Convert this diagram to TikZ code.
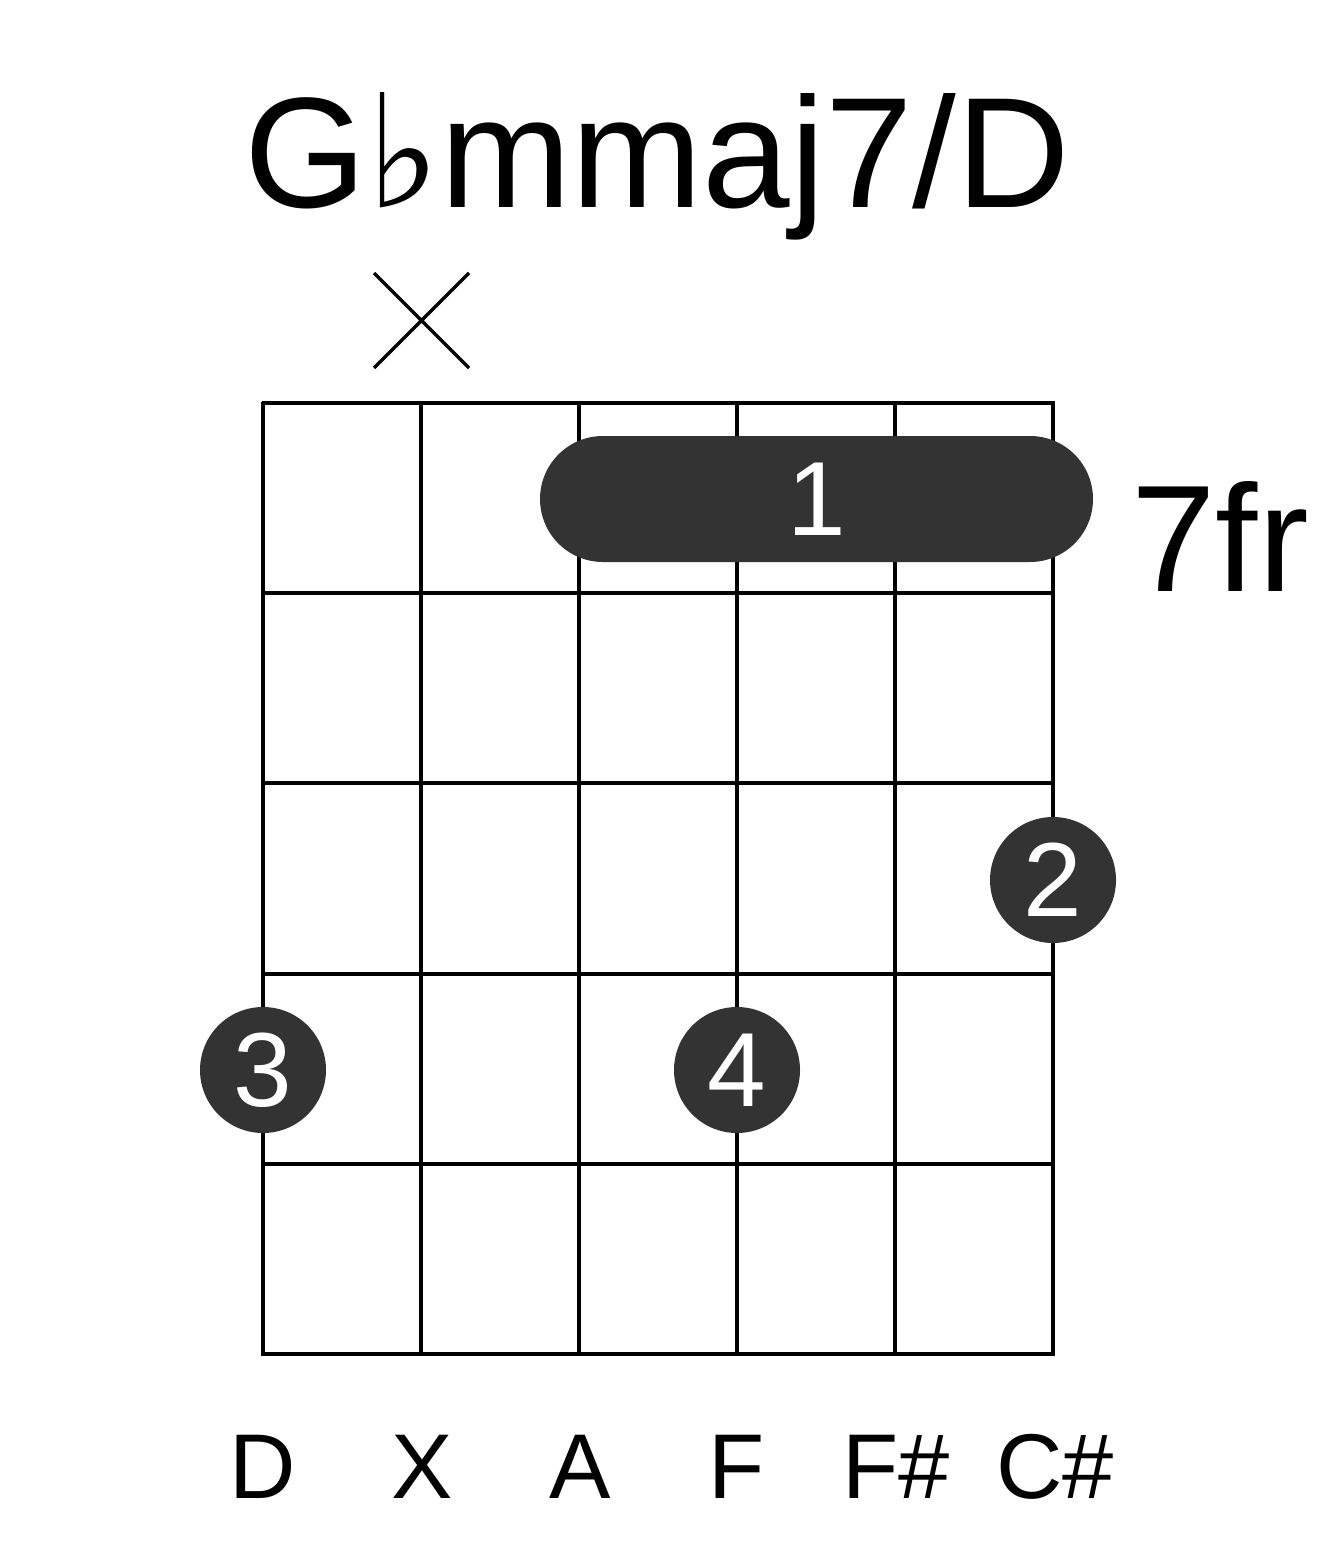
\documentclass[tikz,border=0pt]{standalone}
\usepackage{fontspec}
\setmainfont{Liberation Sans}
\newfontfamily\flatfont{DejaVu Sans}
\usetikzlibrary{positioning}
\definecolor{fingergray}{HTML}{333333}

\begin{document}
\begin{tikzpicture}[
  x=0.75pt, y=-0.75pt,
  every node/.style={inner sep=0pt},
  grid/.style={line width=3pt},
  mute/.style={line width=2.4pt},
  finger/.style={circle, fill=fingergray, text=white, minimum size=94.5pt,
                 font=\fontsize{79}{79}\selectfont},
  barre/.style={rectangle, fill=fingergray, text=white, rounded corners=47.25pt,
                minimum width=414.75pt, minimum height=94.5pt,
                font=\fontsize{79}{79}\selectfont},
  title/.style={font=\fontsize{118}{118}\selectfont},
  fretno/.style={font=\fontsize{114}{114}\selectfont},
  note/.style={font=\fontsize{69}{69}\selectfont},
]
\useasboundingbox (0,0) rectangle (1317,1551);

% ---- title and muted string ------------------------------------------
\node[title, anchor=base] (chord) at (657,208) {G{\flatfont ♭}mmaj7/D};
\draw[mute] (374,273) -- (469,368) (374,368) -- (469,273);

% ---- strings and frets -----------------------------------------------
\foreach \s in {0,...,5}
  \draw[grid] (263+158*\s,401.5) -- (263+158*\s,1355.5);
\foreach \f in {0,...,5}
  \draw[grid] (261.5,403+190.2*\f) -- (1054.5,403+190.2*\f);

% ---- fingers ---------------------------------------------------------
\node[barre] (bar) at (816.5,499) {1};
\node[finger] (two) at (1053,880) {2};
\node[finger] (three) at (263,1070) {3};
\node[finger] (four) at (737,1070) {4};

\node[fretno, anchor=base west] (fret) at (1131,591) {7fr};

% ---- string notes ----------------------------------------------------
\node[note, anchor=base] (nD) at (263,1498) {D};
\node[note, anchor=base] (nX) at (422,1498) {X};
\node[note, anchor=base] (nA) at (580,1498) {A};
\node[note, anchor=base] (nF) at (737,1498) {F};
\node[note, anchor=base] (nFs) at (896,1498) {F\#};
\node[note, anchor=base] (nCs) at (1055,1498) {C\#};

\end{tikzpicture}
\end{document}
